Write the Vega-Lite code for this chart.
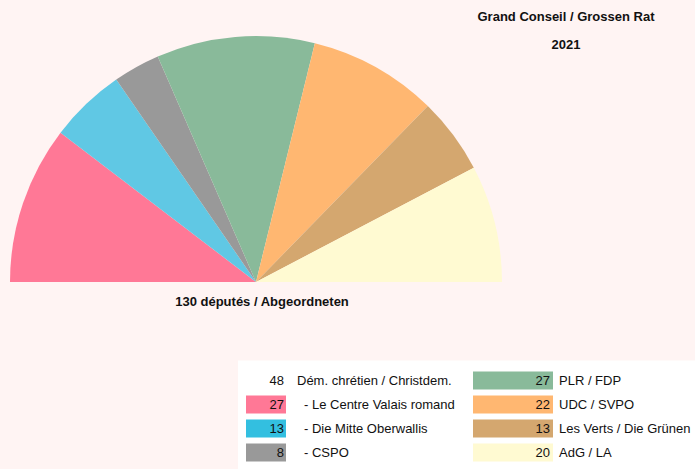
{
  "$schema": "https://vega.github.io/schema/vega-lite/v6.json",
  "background": "#fff4f3",
  "padding": 0,
  "config": {
    "view": {"stroke": null},
    "font": "Liberation Sans Narrow, Arial Narrow, Liberation Sans, sans-serif",
    "text": {"color": "#111111", "font": "Liberation Sans Narrow, Arial Narrow, Liberation Sans, sans-serif"}
  },
  "datasets": {
    "seats": [
      {"party": "Le Centre Valais romand", "seats": 27, "k": 1},
      {"party": "Die Mitte Oberwallis", "seats": 13, "k": 2},
      {"party": "CSPO", "seats": 8, "k": 3},
      {"party": "PLR / FDP", "seats": 27, "k": 4},
      {"party": "UDC / SVPO", "seats": 22, "k": 5},
      {"party": "Les Verts / Die Grünen", "seats": 13, "k": 6},
      {"party": "AdG / LA", "seats": 20, "k": 7}
    ],
    "legendLeft": [
      {"party": "Dém. chrétien / Christdem.", "label": "Dém. chrétien / Christdem.", "seats": 48, "k": 0},
      {"party": "Le Centre Valais romand", "label": "- Le Centre Valais romand", "seats": 27, "k": 1},
      {"party": "Die Mitte Oberwallis", "label": "- Die Mitte Oberwallis", "seats": 13, "k": 2},
      {"party": "CSPO", "label": "- CSPO", "seats": 8, "k": 3}
    ],
    "legendRight": [
      {"party": "PLR / FDP", "label": "PLR / FDP", "seats": 27, "k": 4},
      {"party": "UDC / SVPO", "label": "UDC / SVPO", "seats": 22, "k": 5},
      {"party": "Les Verts / Die Grünen", "label": "Les Verts / Die Grünen", "seats": 13, "k": 6},
      {"party": "AdG / LA", "label": "AdG / LA", "seats": 20, "k": 7}
    ]
  },
  "vconcat": [
    {
      "hconcat": [
        {
          "width": 512,
          "height": 282,
          "view": {"fill": "#fff4f3", "stroke": null},
          "layer": [
            {
              "data": {"name": "seats"},
              "mark": {"type": "arc", "outerRadius": 246},
              "encoding": {
                "y": {"datum": 0, "type": "quantitative", "scale": {"domain": [0, 1]}, "axis": null},
                "theta": {"field": "seats", "type": "quantitative", "stack": true, "scale": {"range": [-1.5707963, 1.5707963]}},
                "color": {
                  "field": "party",
                  "type": "nominal",
                  "legend": null,
                  "scale": {
                    "domain": ["Le Centre Valais romand", "Die Mitte Oberwallis", "CSPO", "PLR / FDP", "UDC / SVPO", "Les Verts / Die Grünen", "AdG / LA"],
                    "range": ["#ff7896", "#60c8e4", "#999999", "#89ba9a", "#ffb771", "#d4a76f", "#fffad2"]
                  }
                },
                "order": {"field": "k", "type": "quantitative"}
              }
            },
            {
              "data": {"values": [{"caption": "130 députés / Abgeordneten"}]},
              "mark": {"type": "text", "fontWeight": "bold", "fontSize": 13, "dx": 6, "dy": 20},
              "encoding": {
                "y": {"datum": 0, "type": "quantitative"},
                "text": {"field": "caption", "type": "nominal"}
              }
            }
          ]
        },
        {
          "width": 108,
          "height": 282,
          "view": {"fill": "#fff4f3", "stroke": null},
          "data": {"values": [{"line": "Grand Conseil / Grossen Rat"}, {"line": "2021"}]},
          "mark": {"type": "text", "fontWeight": "bold", "fontSize": 13},
          "encoding": {
            "y": {"field": "line", "type": "nominal", "sort": null, "axis": null, "scale": {"type": "point", "domain": ["Grand Conseil / Grossen Rat", "2021"], "range": [17, 45], "padding": 0}},
            "text": {"field": "line", "type": "nominal"}
          }
        }
      ],
      "spacing": 0,
      "bounds": "flush"
    },
    {
      "hconcat": [
        {
          "width": 238,
          "height": 109,
          "view": {"fill": "#fff4f3", "stroke": null},
          "data": {"values": []},
          "mark": "point"
        },
        {
          "width": 235,
          "height": 109,
          "view": {"fill": "white", "stroke": null},
          "data": {"name": "legendLeft"},
          "encoding": {
            "y": {
              "field": "party",
              "type": "nominal",
              "axis": null,
              "scale": {
                "type": "band",
                "domain": ["Dém. chrétien / Christdem.", "Le Centre Valais romand", "Die Mitte Oberwallis", "CSPO"],
                "range": [8, 104],
                "paddingInner": 0.25,
                "paddingOuter": 0.125
              }
            }
          },
          "layer": [
            {
              "transform": [{"filter": "datum.k > 0"}],
              "mark": "rect",
              "encoding": {
                "x": {"datum": "box", "type": "nominal", "axis": null, "scale": {"type": "band", "domain": ["box"], "range": [8, 48], "paddingInner": 0, "paddingOuter": 0}},
                "fill": {
                  "field": "party",
                  "type": "nominal",
                  "legend": null,
                  "scale": {
                    "domain": ["Le Centre Valais romand", "Die Mitte Oberwallis", "CSPO", "PLR / FDP", "UDC / SVPO", "Les Verts / Die Grünen", "AdG / LA"],
                    "range": ["#ff7896", "#33bfe0", "#999999", "#89ba9a", "#ffb771", "#d4a76f", "#fffad2"]
                  }
                }
              }
            },
            {
              "mark": {"type": "text", "align": "right", "dx": -2, "fontSize": 13},
              "encoding": {
                "x": {"datum": "box", "type": "nominal", "bandPosition": 1},
                "text": {"field": "seats", "type": "quantitative"}
              }
            },
            {
              "transform": [{"filter": "datum.k == 0"}],
              "mark": {"type": "text", "align": "left", "dx": 11, "fontSize": 13},
              "encoding": {
                "x": {"datum": "box", "type": "nominal", "bandPosition": 1},
                "text": {"field": "label", "type": "nominal"}
              }
            },
            {
              "transform": [{"filter": "datum.k > 0"}],
              "mark": {"type": "text", "align": "left", "dx": 18, "fontSize": 13},
              "encoding": {
                "x": {"datum": "box", "type": "nominal", "bandPosition": 1},
                "text": {"field": "label", "type": "nominal"}
              }
            }
          ]
        },
        {
          "width": 222,
          "height": 109,
          "view": {"fill": "white", "stroke": null},
          "data": {"name": "legendRight"},
          "encoding": {
            "y": {
              "field": "party",
              "type": "nominal",
              "axis": null,
              "scale": {
                "type": "band",
                "domain": ["PLR / FDP", "UDC / SVPO", "Les Verts / Die Grünen", "AdG / LA"],
                "range": [8, 104],
                "paddingInner": 0.25,
                "paddingOuter": 0.125
              }
            }
          },
          "layer": [
            {
              "mark": "rect",
              "encoding": {
                "x": {"datum": "box", "type": "nominal", "axis": null, "scale": {"type": "band", "domain": ["box"], "range": [0, 80], "paddingInner": 0, "paddingOuter": 0}},
                "fill": {"field": "party", "type": "nominal", "legend": null}
              }
            },
            {
              "mark": {"type": "text", "align": "right", "dx": -3, "fontSize": 13},
              "encoding": {
                "x": {"datum": "box", "type": "nominal", "bandPosition": 1},
                "text": {"field": "seats", "type": "quantitative"}
              }
            },
            {
              "mark": {"type": "text", "align": "left", "dx": 6, "fontSize": 13},
              "encoding": {
                "x": {"datum": "box", "type": "nominal", "bandPosition": 1},
                "text": {"field": "label", "type": "nominal"}
              }
            }
          ]
        }
      ],
      "spacing": 0,
      "bounds": "flush"
    }
  ],
  "spacing": 51.5,
  "bounds": "full"
}
